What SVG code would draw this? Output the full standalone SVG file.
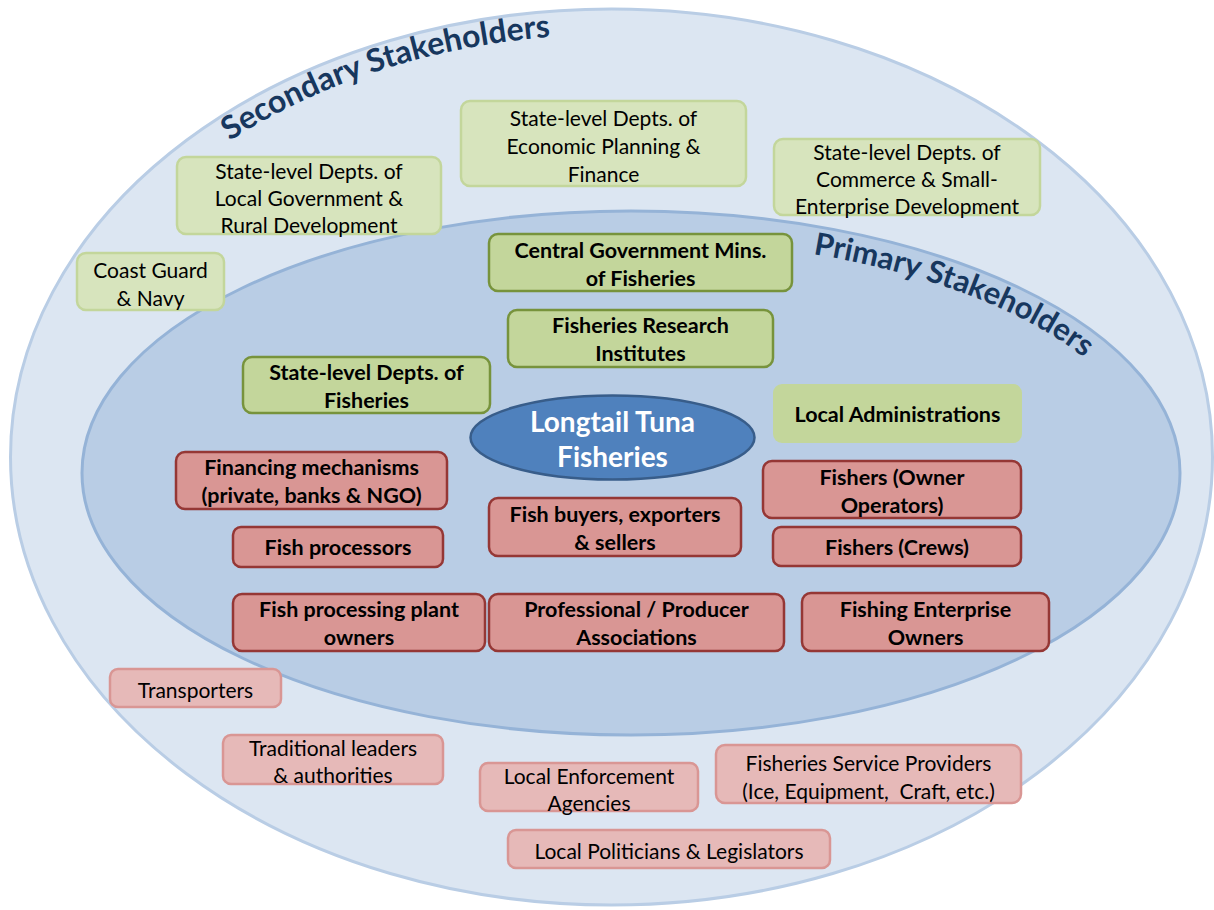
<svg xmlns="http://www.w3.org/2000/svg" width="1214" height="910" viewBox="0 0 1214 910">
<style>
text{font-family:Lato,"Open Sans","Liberation Sans",sans-serif;text-anchor:middle;dominant-baseline:central;fill:#000}
.r{font-size:21px}
.b{font-size:21.5px;font-weight:bold}
.sg{fill:#d7e4bd;stroke:#c3d69b;stroke-width:2.5}
.sp{fill:#e6b9b8;stroke:#d99694;stroke-width:2.5}
.pg{fill:#c3d69b;stroke:#77933c;stroke-width:2.5}
.pp{fill:#d99694;stroke:#953735;stroke-width:2.5}
.title{font-weight:bold;fill:#17375e;text-anchor:start;dominant-baseline:alphabetic}
</style>
<defs>
<path id="outerArc" d="M230,141 A576,423 0 0 1 1153,312"/>
<path id="innerArc" d="M813,254 A521,234 0 0 1 1152,473"/>
</defs>
<rect width="1214" height="910" fill="#fff"/>
<g id="secondary-area">
<ellipse cx="611.5" cy="457" rx="601" ry="448" fill="#dce6f2" stroke="#b9cde5" stroke-width="3"/>
<text class="title" style="font-size:32px"><textPath href="#outerArc">Secondary Stakeholders</textPath></text>
</g>
<g id="primary-area">
<ellipse cx="631" cy="473" rx="549" ry="262" fill="#b9cde5" stroke="#95b3d7" stroke-width="3"/>
<text class="title" style="font-size:31px"><textPath href="#innerArc">Primary Stakeholders</textPath></text>
</g>
<g id="connectors"></g>
<g id="n-local-gov"><rect class="sg" x="177" y="157" width="264" height="77" rx="9"/><text class="r" x="309" y="170">State-level Depts. of</text><text class="r" x="309" y="197">Local Government &amp;</text><text class="r" x="309" y="224">Rural Development</text></g>
<g id="n-econ"><rect class="sg" x="461" y="101" width="285" height="85" rx="9"/><text class="r" x="603.5" y="117">State-level Depts. of</text><text class="r" x="603.5" y="145">Economic Planning &amp;</text><text class="r" x="603.5" y="173">Finance</text></g>
<g id="n-commerce"><rect class="sg" x="774" y="139" width="266" height="76" rx="9"/><text class="r" x="907" y="151">State-level Depts. of</text><text class="r" x="907" y="178">Commerce &amp; Small-</text><text class="r" x="907" y="205">Enterprise Development</text></g>
<g id="n-coast"><rect class="sg" x="77" y="253" width="147" height="57" rx="9"/><text class="r" x="150.5" y="269">Coast Guard</text><text class="r" x="150.5" y="297">&amp; Navy</text></g>
<g id="n-transport"><rect class="sp" x="110" y="669" width="171" height="38" rx="8"/><text class="r" x="195.5" y="689">Transporters</text></g>
<g id="n-traditional"><rect class="sp" x="223" y="735" width="220" height="49" rx="8"/><text class="r" x="333" y="747">Traditional leaders</text><text class="r" x="333" y="774">&amp; authorities</text></g>
<g id="n-enforcement"><rect class="sp" x="480" y="763" width="218" height="48" rx="8"/><text class="r" x="589" y="775">Local Enforcement</text><text class="r" x="589" y="802">Agencies</text></g>
<g id="n-service"><rect class="sp" x="716" y="745" width="305" height="58" rx="9"/><text class="r" x="868.5" y="762">Fisheries Service Providers</text><text class="r" x="868.5" y="790" xml:space="preserve">(Ice, Equipment,  Craft, etc.)</text></g>
<g id="n-politicians"><rect class="sp" x="508" y="830" width="322" height="38" rx="8"/><text class="r" x="669" y="850">Local Politicians &amp; Legislators</text></g>
<g id="n-central"><rect class="pg" x="489" y="234" width="303" height="57" rx="9"/><text class="b" x="640.5" y="250">Central Government Mins.</text><text class="b" x="640.5" y="278">of Fisheries</text></g>
<g id="n-research"><rect class="pg" x="508" y="310" width="265" height="57" rx="9"/><text class="b" x="640.5" y="325">Fisheries Research</text><text class="b" x="640.5" y="353">Institutes</text></g>
<g id="n-state-fish"><rect class="pg" x="243" y="357" width="247" height="56" rx="9"/><text class="b" x="366.5" y="372">State-level Depts. of</text><text class="b" x="366.5" y="400">Fisheries</text></g>
<g id="n-local-admin"><rect x="773" y="384" width="249" height="59" rx="9" fill="#c3d69b"/><text class="b" x="897.5" y="414">Local Administrations</text></g>
<g id="n-center"><ellipse cx="612.5" cy="437.5" rx="142" ry="42" fill="#4f81bd" stroke="#385d8a" stroke-width="2.5"/><text x="612.5" y="421" style="font-size:28px;font-weight:bold;fill:#fff">Longtail Tuna</text><text x="612.5" y="456" style="font-size:28px;font-weight:bold;fill:#fff">Fisheries</text></g>
<g id="n-financing"><rect class="pp" x="176" y="452" width="271" height="57" rx="9"/><text class="b" x="311.5" y="467">Financing mechanisms</text><text class="b" x="311.5" y="495">(private, banks &amp; NGO)</text></g>
<g id="n-processors"><rect class="pp" x="233" y="527" width="210" height="40" rx="8"/><text class="b" x="338" y="547">Fish processors</text></g>
<g id="n-buyers"><rect class="pp" x="489" y="498" width="252" height="58" rx="9"/><text class="b" x="615" y="514">Fish buyers, exporters</text><text class="b" x="615" y="542">&amp; sellers</text></g>
<g id="n-owner-ops"><rect class="pp" x="763" y="461" width="258" height="57" rx="9"/><text class="b" x="892" y="477">Fishers (Owner</text><text class="b" x="892" y="505">Operators)</text></g>
<g id="n-crews"><rect class="pp" x="773" y="527" width="248" height="39" rx="8"/><text class="b" x="897" y="547">Fishers (Crews)</text></g>
<g id="n-plant"><rect class="pp" x="233" y="594" width="252" height="57" rx="9"/><text class="b" x="359" y="609">Fish processing plant</text><text class="b" x="359" y="637">owners</text></g>
<g id="n-assoc"><rect class="pp" x="489" y="594" width="295" height="57" rx="9"/><text class="b" x="636.5" y="609">Professional / Producer</text><text class="b" x="636.5" y="637">Associations</text></g>
<g id="n-enterprise"><rect class="pp" x="802" y="593" width="247" height="58" rx="9"/><text class="b" x="925.5" y="609">Fishing Enterprise</text><text class="b" x="925.5" y="637">Owners</text></g>
</svg>
